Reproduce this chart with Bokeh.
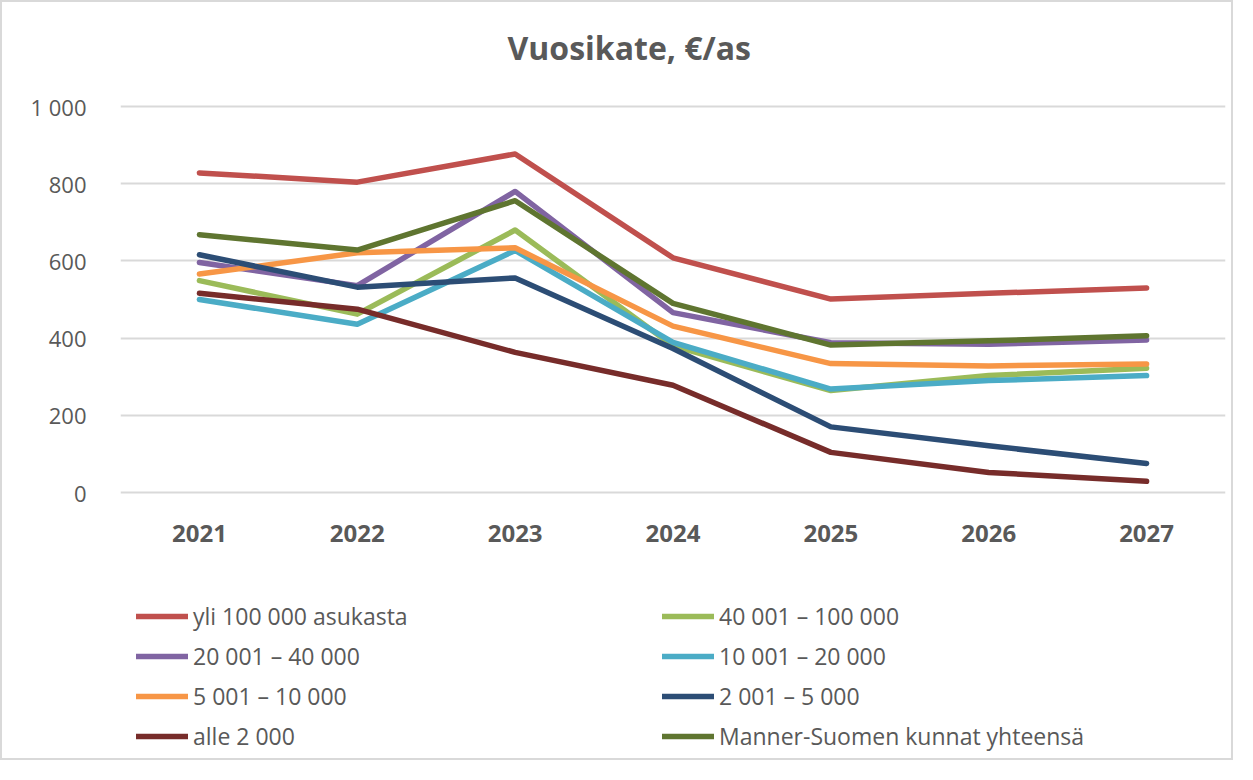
from bokeh.plotting import figure
from bokeh.models import FactorRange, Range1d, FixedTicker, Legend, LegendItem
from bokeh.core.properties import value
from bokeh.embed import file_html
from bokeh.resources import INLINE

# ---- data ----
years = ["2021", "2022", "2023", "2024", "2025", "2026", "2027"]
y_ticks = [0, 200, 400, 600, 800, 1000]
y_tick_labels = ["0", "200", "400", "600", "800", "1 000"]

series_names = [
    "yli 100 000 asukasta",
    "40 001 – 100 000",
    "20 001 – 40 000",
    "10 001 – 20 000",
    "5 001 – 10 000",
    "2 001 – 5 000",
    "alle 2 000",
    "Manner-Suomen kunnat yhteensä",
]
yli_100000 = [828, 804, 877, 608, 501, 516, 530]
v40_100 = [549, 462, 680, 380, 264, 303, 322]
v20_40 = [596, 536, 780, 466, 388, 384, 395]
v10_20 = [500, 436, 627, 389, 268, 290, 303]
v5_10 = [566, 621, 634, 431, 334, 328, 333]
v2_5 = [616, 532, 556, 373, 170, 121, 75]
alle_2000 = [516, 475, 363, 278, 104, 52, 29]
manner = [668, 628, 756, 490, 382, 393, 406]
series_values = [yli_100000, v40_100, v20_40, v10_20, v5_10, v2_5, alle_2000, manner]
colors = ["#C0504D", "#9BBB59", "#8064A2", "#4BACC6", "#F79646", "#2C4D75", "#772C2A", "#5F7530"]

FONT = "Open Sans"
GRAY = "#595959"

p = figure(
    x_range=FactorRange(*years, range_padding=0),
    y_range=Range1d(-689.1, 1062.2),
    width=1233, height=760,
    output_backend="svg", toolbar_location=None,
    min_border_left=118, min_border_right=10, min_border_top=80, min_border_bottom=4,
    title="Vuosikate, €/as",
)
p.styles = {"border": "2px solid #D9D9D9"}
p.outline_line_color = None
p.background_fill_color = "white"
p.border_fill_color = "white"

p.title.text_font = FONT
p.title.text_font_size = "32px"
p.title.text_font_style = "bold"
p.title.text_color = GRAY
p.title.align = "left"
p.title.offset = 387
p.title.standoff = 28

# y axis
p.yaxis.ticker = FixedTicker(ticks=y_ticks)
p.yaxis.major_label_overrides = {t: l for t, l in zip(y_ticks, y_tick_labels)}
p.yaxis.axis_line_color = None
p.yaxis.major_tick_line_color = None
p.yaxis.minor_tick_line_color = None
p.yaxis.major_tick_out = 0
p.yaxis.major_tick_in = 0
p.yaxis.major_label_standoff = 34
p.yaxis.major_label_text_font = FONT
p.yaxis.major_label_text_font_size = "22px"
p.yaxis.major_label_text_color = GRAY

# x axis drawn as category labels under the zero line
p.xaxis.visible = False
p.text(x=years, y=[0] * len(years), text=years, y_offset=41,
       text_align="center", text_baseline="middle",
       text_font=value(FONT), text_font_size="24px", text_font_style="bold", text_color=GRAY)

p.xgrid.grid_line_color = None
p.ygrid.grid_line_color = "#D9D9D9"
p.ygrid.grid_line_width = 2

renderers = []
for name, vals, c in zip(series_names, series_values, colors):
    r = p.line(years, vals, line_color=c, line_width=5.5, line_cap="round", line_join="round")
    renderers.append(r)

# legend laid out column-major: reorder so rows read like the reference
order = [0, 2, 4, 6, 1, 3, 5, 7]
items = [LegendItem(label=series_names[i], renderers=[renderers[i]]) for i in order]
legend = Legend(
    items=items, ncols=2, location=(16, 6),
    glyph_width=52, glyph_height=28, label_height=28, label_width=461,
    label_standoff=5, spacing=8, padding=0, margin=0,
    label_text_font=FONT, label_text_font_size="23px", label_text_color=GRAY,
    border_line_color=None, background_fill_alpha=0,
)
p.add_layout(legend, "center")

open("out.html", "w").write(file_html(p, INLINE))
